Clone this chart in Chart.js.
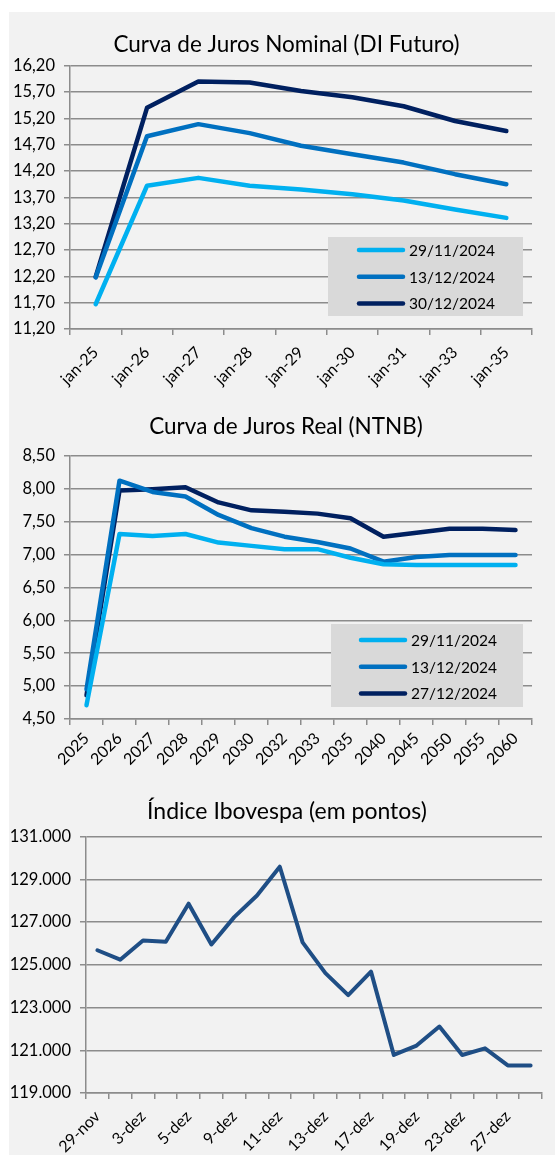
<!DOCTYPE html>
<html lang="pt">
<head>
    <meta charset="UTF-8">
    <title>Curvas de juros e Ibovespa</title>
    <script src="https://cdn.jsdelivr.net/npm/chart.js"></script>
    <style>
        body { margin: 0; background: #fff; }
        .fundo {
            position: absolute;
            left: 9px; top: 12px; right: 0; bottom: 0;
            background: #f2f2f2;
        }
        canvas { position: absolute; left: 9px; }
        #c1 { top: 12px; }
        #c2 { top: 390px; }
        #c3 { top: 775px; }
    </style>
</head>
<body>
    <div class="fundo"></div>
    <canvas id="c1" width="546" height="378"></canvas>
    <canvas id="c2" width="546" height="385"></canvas>
    <canvas id="c3" width="546" height="380"></canvas>

    <script>
        // Curva nominal (DI Futuro)
        const vertNominal = ['jan-25', 'jan-26', 'jan-27', 'jan-28', 'jan-29', 'jan-30', 'jan-31', 'jan-33', 'jan-35'];
        const nominal2911 = [11.67, 13.92, 14.07, 13.92, 13.85, 13.76, 13.64, 13.47, 13.31];
        const nominal1312 = [12.18, 14.86, 15.09, 14.92, 14.68, 14.52, 14.36, 14.14, 13.95];
        const nominal3012 = [12.19, 15.40, 15.90, 15.88, 15.72, 15.60, 15.43, 15.15, 14.96];

        // Curva real (NTNB)
        const vertReal = ['2025', '2026', '2027', '2028', '2029', '2030', '2032', '2033', '2035', '2040', '2045', '2050', '2055', '2060'];
        const real2911 = [4.71, 7.31, 7.28, 7.31, 7.18, 7.13, 7.08, 7.08, 6.95, 6.85, 6.84, 6.84, 6.84, 6.84];
        const real1312 = [4.95, 8.12, 7.95, 7.88, 7.60, 7.40, 7.27, 7.19, 7.09, 6.89, 6.96, 6.99, 6.99, 6.99];
        const real2712 = [4.86, 7.97, 7.99, 8.02, 7.79, 7.67, 7.65, 7.62, 7.55, 7.27, 7.33, 7.39, 7.39, 7.37];

        // Ibovespa
        const diasIbov = ['29-nov', '2-dez', '3-dez', '4-dez', '5-dez', '6-dez', '9-dez', '10-dez', '11-dez', '12-dez',
                          '13-dez', '16-dez', '17-dez', '18-dez', '19-dez', '20-dez', '23-dez', '26-dez', '27-dez', '30-dez'];
        const pontosIbov = [125680, 125240, 126140, 126080, 127860, 125950, 127230, 128240, 129590, 126050,
                            124610, 123580, 124680, 120780, 121220, 122110, 120780, 121090, 120290, 120290];

        const FONTE = 'Lato, "Open Sans", sans-serif';
        const CINZA = '#8c8c8c';
        const CORES = ['#00b0f0', '#0070c0', '#002060'];

        // legenda desenhada dentro do grafico, com caixa cinza
        const legendaCaixa = {
            id: 'legendaCaixa',
            afterDraw(chart, args, opts) {
                if (!opts.show) return;
                const ctx = chart.ctx;
                ctx.save();
                ctx.fillStyle = '#d9d9d9';
                ctx.fillRect(opts.x, opts.y, opts.w, opts.h);
                ctx.font = '15.5px ' + FONTE;
                ctx.textBaseline = 'middle';
                ctx.textAlign = 'left';
                chart.data.datasets.forEach((ds, i) => {
                    const y = opts.y + opts.first + i * opts.gap;
                    ctx.strokeStyle = ds.borderColor;
                    ctx.lineWidth = 4.5;
                    ctx.lineCap = 'round';
                    ctx.beginPath();
                    ctx.moveTo(opts.lineX, y);
                    ctx.lineTo(opts.lineX + 44, y);
                    ctx.stroke();
                    ctx.fillStyle = '#000';
                    ctx.fillText(ds.label, opts.lineX + 50, y + 1);
                });
                ctx.restore();
            }
        };

        // desloca o titulo na horizontal (no original ele fica centrado no quadro todo)
        const tituloDesloca = {
            id: 'tituloDesloca',
            afterLayout(chart, args, opts) {
                const t = chart.titleBlock;
                if (t && opts.dx) {
                    t.left += opts.dx;
                    t.right += opts.dx;
                }
            }
        };

        function virgula(v) {
            return v.toFixed(2).replace('.', ',');
        }
        function milhar(v) {
            return String(Math.round(v)).replace(/\B(?=(\d{3})+(?!\d))/g, '.');
        }

        function serie(label, data, cor, largura) {
            return {
                label: label,
                data: data,
                borderColor: cor,
                backgroundColor: cor,
                borderWidth: largura,
                pointRadius: 0,
                tension: 0,
                borderCapStyle: 'round',
                borderJoinStyle: 'round'
            };
        }

        function grafico(id, cfg) {
            const ctx = document.getElementById(id).getContext('2d');
            return new Chart(ctx, {
                type: 'line',
                data: { labels: cfg.labels, datasets: cfg.datasets },
                options: {
                    responsive: false,
                    animation: false,
                    layout: { padding: { left: 0, right: cfg.padRight, top: 0, bottom: 0 } },
                    plugins: {
                        legend: { display: false },
                        tooltip: { enabled: false },
                        title: {
                            display: true,
                            text: cfg.titulo,
                            color: '#000',
                            font: { family: FONTE, size: cfg.tituloTam || 22.5, weight: 'normal' },
                            padding: { top: cfg.tituloTop, bottom: cfg.tituloBottom }
                        },
                        tituloDesloca: { dx: cfg.tituloDx },
                        legendaCaixa: cfg.legenda || { show: false }
                    },
                    scales: {
                        x: {
                            offset: true,
                            grid: { drawOnChartArea: false, offset: true, color: CINZA, tickLength: 6, lineWidth: 1.5 },
                            border: { color: CINZA, width: 1.5 },
                            ticks: {
                                color: '#000',
                                font: { family: FONTE, size: 16 },
                                autoSkip: false,
                                maxRotation: 45,
                                minRotation: 45,
                                padding: cfg.xPad,
                                callback: cfg.xCallback || function (v) { return this.getLabelForValue(v); }
                            },
                            afterFit(scale) { scale.height = cfg.xAltura; }
                        },
                        y: {
                            min: cfg.min,
                            max: cfg.max,
                            grid: { color: CINZA, tickLength: 6, lineWidth: 1.5 },
                            border: { color: CINZA, width: 1.5 },
                            ticks: {
                                stepSize: cfg.passo,
                                color: '#000',
                                font: { family: FONTE, size: 16.5 },
                                padding: 9,
                                callback: cfg.yFormato
                            },
                            afterFit(scale) { scale.width = cfg.yLargura; }
                        }
                    }
                },
                plugins: [tituloDesloca, legendaCaixa]
            });
        }

        grafico('c1', {
            titulo: 'Curva de Juros Nominal (DI Futuro)',
            labels: vertNominal,
            datasets: [
                serie('29/11/2024', nominal2911, CORES[0], 4.5),
                serie('13/12/2024', nominal1312, CORES[1], 4.5),
                serie('30/12/2024', nominal3012, CORES[2], 4.5)
            ],
            min: 11.2, max: 16.2, passo: 0.5,
            yFormato: virgula,
            yLargura: 61, xAltura: 61, padRight: 23, xPad: 8,
            tituloTop: 19.5, tituloBottom: 7.2, tituloDx: 16,
            legenda: { show: true, x: 319, y: 225, w: 195, h: 79, first: 13, gap: 26.7, lineX: 350 }
        });

        grafico('c2', {
            titulo: 'Curva de Juros Real (NTNB)',
            labels: vertReal,
            datasets: [
                serie('29/11/2024', real2911, CORES[0], 4.5),
                serie('13/12/2024', real1312, CORES[1], 4.5),
                serie('27/12/2024', real2712, CORES[2], 4.5)
            ],
            min: 4.5, max: 8.5, passo: 0.5,
            yFormato: virgula,
            yLargura: 61, xAltura: 56, padRight: 23, xPad: 4,
            tituloTop: 23.2, tituloBottom: 15.5, tituloDx: 15.5,
            legenda: { show: true, x: 322, y: 234, w: 192, h: 83, first: 16, gap: 26.7, lineX: 352 }
        });

        grafico('c3', {
            titulo: 'Índice Ibovespa (em pontos)',
            labels: diasIbov,
            datasets: [serie('Ibovespa', pontosIbov, '#1f4e85', 4)],
            min: 119000, max: 131000, passo: 2000,
            yFormato: milhar,
            yLargura: 77, xAltura: 62, padRight: 13, xPad: 8,
            tituloTop: 23.2, tituloBottom: 10.8, tituloTam: 23, tituloDx: 11.5,
            xCallback: function (v, i) { return i % 2 === 0 ? this.getLabelForValue(v) : ''; }
        });
    </script>
</body>
</html>
